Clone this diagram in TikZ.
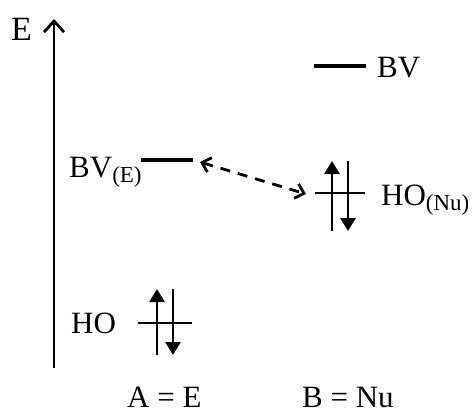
\documentclass[tikz,border=0pt]{standalone}
\usepackage{fontspec}
\setmainfont{Liberation Serif}
\usetikzlibrary{arrows.meta}
\newcommand\mysub[1]{\raisebox{-5pt}{\fontsize{23}{26}\selectfont #1}}
\tikzset{
  lbl/.style={inner sep=0pt, anchor=base west, font=\fontsize{31}{36}\selectfont},
  level/.style={line width=4pt},
  spin/.style={line width=2.6pt, -{Triangle[width=15pt,length=13pt]}},
  cross/.style={line width=2.8pt},
  axis/.style={line width=2.8pt, -{Straight Barb[width=20pt,length=11pt,line width=2.8pt]}},
  inter/.style={line width=2.8pt, dash pattern=on 10pt off 8pt,
     {Straight Barb[width=15pt,length=8pt,line width=2.8pt]}-{Straight Barb[width=15pt,length=8pt,line width=2.8pt]}}
}
\begin{document}
\begin{tikzpicture}[x=1pt,y=-1pt]
\useasboundingbox (0,0) rectangle (476,416);
% axis
\coordinate (ax0) at (54,368);
\coordinate (ax1) at (54,19);
\draw[axis] (ax0) -- (ax1);
\node[inner sep=0pt, anchor=base west, font=\fontsize{34}{40}\selectfont] (E) at (11,40) {E};
% BV (Nu)
\coordinate (bv1) at (314,66);
\coordinate (bv2) at (366,66);
\draw[level] (bv1) -- (bv2);
\node[lbl] (BV) at (377,77) {BV};
% BV(E)
\coordinate (bve1) at (141,159.5);
\coordinate (bve2) at (193,159.5);
\draw[level] (bve1) -- (bve2);
\node[lbl] (BVE) at (69,177) {BV\mysub{(E)}};
% HO(Nu)
\coordinate (hon1) at (315,193);
\coordinate (hon2) at (365,193);
\draw[cross] (hon1) -- (hon2);
\coordinate (hnua) at (332,231);
\coordinate (hnub) at (332,161);
\coordinate (hnuc) at (348,161);
\coordinate (hnud) at (348,231);
\draw[spin] (hnua) -- (hnub);
\draw[spin] (hnuc) -- (hnud);
\node[lbl] (HONu) at (381,205) {HO\mysub{(Nu)}};
% HO(E)
\coordinate (hoe1) at (138,323);
\coordinate (hoe2) at (192,323);
\draw[cross] (hoe1) -- (hoe2);
\coordinate (hea) at (157,355);
\coordinate (heb) at (157,289);
\coordinate (hec) at (173,289);
\coordinate (hed) at (173,355);
\draw[spin] (hea) -- (heb);
\draw[spin] (hec) -- (hed);
\node[lbl] (HO) at (71,333) {HO};
% interaction
\coordinate (i1) at (200,162);
\coordinate (i2) at (306,194);
\draw[inter] (i1) -- (i2);
% bottom labels
\node[lbl] (A) at (127,407) {A = E};
\node[lbl] (B) at (302,407) {B = Nu};
\end{tikzpicture}
\end{document}
